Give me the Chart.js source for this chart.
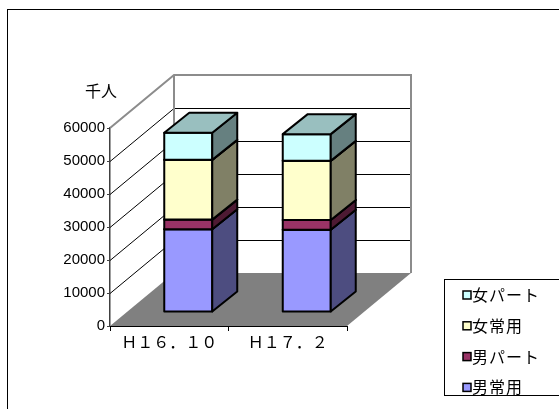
<!DOCTYPE html>
<html lang="ja">
<head>
<meta charset="utf-8">
<title>常用・パート別 雇用者数</title>
<script src="https://cdn.jsdelivr.net/npm/chart.js@4.4.1/dist/chart.umd.min.js"></script>
<style>
  html, body { margin: 0; padding: 0; background: #fff; }
  canvas { display: block; }
</style>
</head>
<body>
<canvas id="chart" width="559" height="409"></canvas>
<script>
// 時点
const periods = ['Ｈ１６．１０', 'Ｈ１７．２'];
// 系列（千人）
const maleRegular   = [25100, 24900];
const malePart      = [2900, 3000];
const femaleRegular = [18100, 17900];
const femalePart    = [8200, 8100];
const seriesNames = ['男常用', '男パート', '女常用', '女パート'];
const yTicks = [0, 10000, 20000, 30000, 40000, 50000, 60000];
const unitLabel = '千人';

const faceColors = ['#9999FF', '#993366', '#FFFFCC', '#CCFFFF'];

const JP_FONT = '"Noto Sans CJK JP", "Noto Sans", sans-serif';
const DEPTH = { x: 64, y: -53 };      // 壁・床の奥行き
const BAR_SHIFT = { x: 19, y: -14 };  // 棒の前面位置（床の手前からのずれ）
const BAR_DEPTH = { x: 25, y: -20 };  // 棒の奥行き

function shade(hex, f) {
  const n = parseInt(hex.slice(1), 16);
  const r = Math.round(((n >> 16) & 255) * f);
  const g = Math.round(((n >> 8) & 255) * f);
  const b = Math.round((n & 255) * f);
  return `rgb(${r},${g},${b})`;
}

function poly(ctx, pts) {
  ctx.beginPath();
  ctx.moveTo(pts[0][0], pts[0][1]);
  for (let i = 1; i < pts.length; i++) ctx.lineTo(pts[i][0], pts[i][1]);
  ctx.closePath();
}

function drawSpaced(ctx, text, x, y, pitch) {
  [...text].forEach((ch, i) => ctx.fillText(ch, x + i * pitch, y));
}

function drawSegment(ctx, x0, x1, yTop, yBot, color) {
  const bx = BAR_DEPTH.x, by = BAR_DEPTH.y;
  // 前面
  ctx.fillStyle = color;
  poly(ctx, [[x0, yTop], [x1, yTop], [x1, yBot], [x0, yBot]]);
  ctx.fill(); ctx.stroke();
  // 側面
  ctx.fillStyle = shade(color, 0.5);
  poly(ctx, [[x1, yTop], [x1 + bx, yTop + by], [x1 + bx, yBot + by], [x1, yBot]]);
  ctx.fill(); ctx.stroke();
  // 上面
  ctx.fillStyle = shade(color, 0.75);
  poly(ctx, [[x0, yTop], [x1, yTop], [x1 + bx, yTop + by], [x0 + bx, yTop + by]]);
  ctx.fill(); ctx.stroke();
}

const box3d = {
  id: 'box3d',
  beforeDraw(chart) {
    const ctx = chart.ctx;
    ctx.save();
    ctx.strokeStyle = '#000';
    ctx.lineWidth = 1;
    ctx.strokeRect(7.5, 9.5, 700, 600);
    ctx.restore();
  },
  beforeDatasetsDraw(chart) {
    const { ctx, chartArea: a, scales } = chart;
    const dx = DEPTH.x, dy = DEPTH.y;
    const yMax = yTicks[yTicks.length - 1];
    ctx.save();

    // 床
    ctx.fillStyle = '#808080';
    poly(ctx, [[a.left, a.bottom], [a.right, a.bottom], [a.right + dx, a.bottom + dy], [a.left + dx, a.bottom + dy]]);
    ctx.fill();

    // 目盛線（側壁と奥壁）
    ctx.strokeStyle = '#000';
    ctx.lineWidth = 1;
    yTicks.forEach(v => {
      if (v === 0 || v === yMax) return;
      const y = Math.round(scales.y.getPixelForValue(v)) + 0.5;
      ctx.beginPath();
      ctx.moveTo(a.left, y);
      ctx.lineTo(a.left + dx, y + dy);
      ctx.lineTo(a.right + dx, y + dy);
      ctx.stroke();
    });

    // 壁の枠
    ctx.strokeStyle = '#8c8c8c';
    ctx.lineWidth = 2;
    const top = scales.y.getPixelForValue(yMax);
    ctx.beginPath();
    ctx.moveTo(a.left, top);
    ctx.lineTo(a.left + dx, top + dy);
    ctx.lineTo(a.right + dx, top + dy);
    ctx.lineTo(a.right + dx, a.bottom + dy);
    ctx.moveTo(a.left + dx, top + dy);
    ctx.lineTo(a.left + dx, a.bottom + dy);
    ctx.stroke();

    // 床の手前の辺
    ctx.strokeStyle = '#000';
    ctx.lineWidth = 1;
    ctx.beginPath();
    ctx.moveTo(a.left, a.bottom + 0.5);
    ctx.lineTo(a.right, a.bottom + 0.5);
    ctx.stroke();

    // 積み上げ棒
    ctx.lineWidth = 2;
    ctx.lineJoin = 'round';
    const metas = chart.getSortedVisibleDatasetMetas().slice().sort((p, q) => p.index - q.index);
    periods.forEach((_, j) => {
      metas.forEach(meta => {
        const el = meta.data[j];
        const { x, y, base, width } = el.getProps(['x', 'y', 'base', 'width'], true);
        const color = chart.data.datasets[meta.index].backgroundColor;
        const x0 = x - width / 2 + BAR_SHIFT.x;
        const x1 = x + width / 2 + BAR_SHIFT.x;
        drawSegment(ctx, x0, x1, y + BAR_SHIFT.y, base + BAR_SHIFT.y, color);
      });
    });

    ctx.restore();
    return false;
  },
  afterDraw(chart) {
    const ctx = chart.ctx;
    ctx.save();
    ctx.fillStyle = '#000';
    ctx.font = `16px ${JP_FONT}`;
    ctx.textAlign = 'center';
    ctx.textBaseline = 'middle';
    ctx.fillText(unitLabel, 101, 91);

    // 凡例（上から逆順）
    ctx.strokeStyle = '#000';
    ctx.lineWidth = 1;
    ctx.fillStyle = '#fff';
    ctx.fillRect(444.5, 279.5, 200, 116);
    ctx.strokeRect(444.5, 279.5, 200, 116);
    ctx.textAlign = 'left';
    const ds = chart.data.datasets;
    for (let k = 0; k < ds.length; k++) {
      const d = ds[ds.length - 1 - k];
      const cy = 295 + k * 30.8;
      ctx.fillStyle = d.backgroundColor;
      ctx.fillRect(463, cy - 4, 8, 8);
      ctx.lineWidth = 1.5;
      ctx.strokeRect(463, cy - 4, 8, 8);
      ctx.fillStyle = '#000';
      drawSpaced(ctx, d.label, 472, cy, 17);
    }
    ctx.restore();
  }
};

const seriesValues = [maleRegular, malePart, femaleRegular, femalePart];

new Chart(document.getElementById('chart'), {
  type: 'bar',
  data: {
    labels: periods,
    datasets: seriesNames.map((name, i) => ({
      label: name,
      data: seriesValues[i],
      backgroundColor: faceColors[i],
      borderColor: '#000',
      borderWidth: 2,
      categoryPercentage: 1,
      barPercentage: 0.405
    }))
  },
  options: {
    responsive: false,
    devicePixelRatio: 1,
    animation: false,
    layout: { padding: { top: 128, right: 212, bottom: 0, left: 0 } },
    plugins: { legend: { display: false }, tooltip: { enabled: false } },
    scales: {
      x: {
        stacked: true,
        afterFit(scale) { scale.height = 83; },
        grid: { drawOnChartArea: false, tickLength: 5, color: '#000' },
        border: { display: true, color: '#000' },
        ticks: { color: '#000', padding: 1, font: { family: JP_FONT, size: 16 } }
      },
      y: {
        stacked: true,
        min: 0,
        max: 60000,
        afterFit(scale) { scale.width = 110; },
        afterBuildTicks(scale) { scale.ticks = yTicks.map(v => ({ value: v })); },
        grid: { drawOnChartArea: false, tickLength: 3, color: '#404040' },
        border: { display: true, color: '#404040', width: 1.5 },
        ticks: {
          color: '#000',
          padding: 2,
          font: { family: '"Liberation Sans", Arial, sans-serif', size: 15 },
          callback: v => String(v)
        }
      }
    }
  },
  plugins: [box3d]
});
</script>
</body>
</html>
